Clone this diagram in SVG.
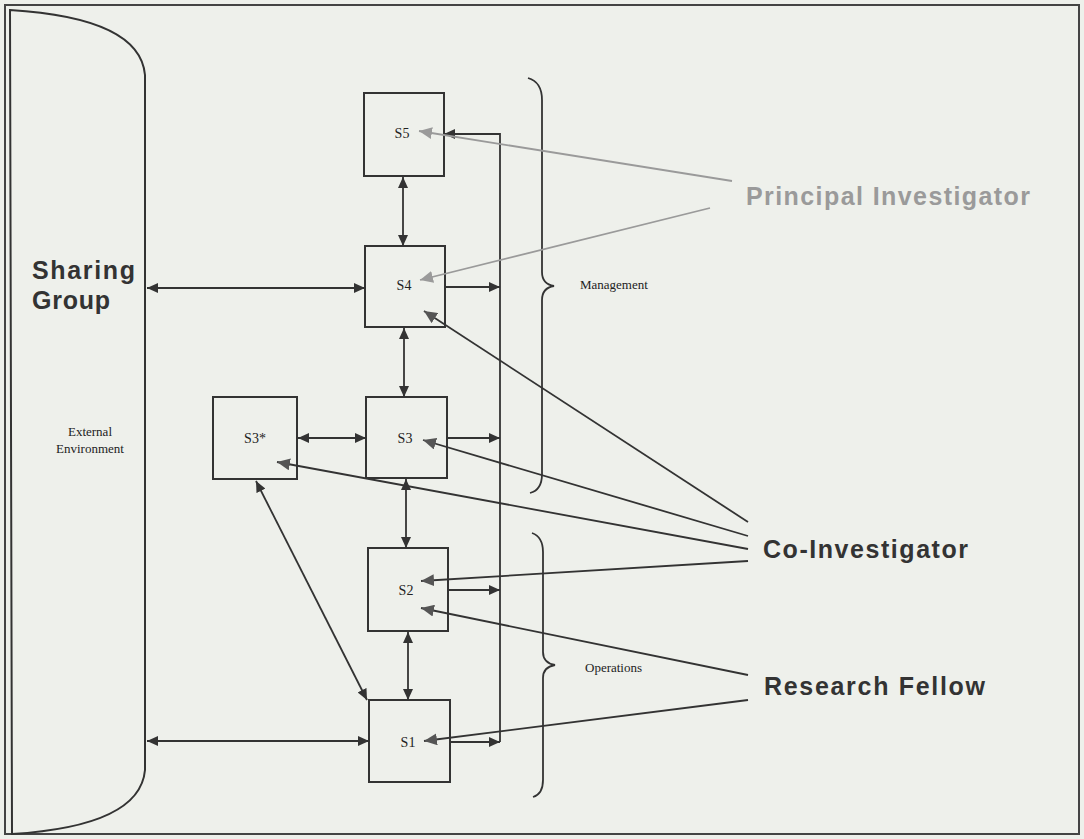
<svg xmlns="http://www.w3.org/2000/svg" width="1084" height="839" viewBox="0 0 1084 839">
<style>
.box{fill:none;stroke:#333;stroke-width:2}
.ln{fill:none;stroke:#333;stroke-width:1.8}
.gl{fill:none;stroke:#9a9a9a;stroke-width:1.8}
.lab{font-family:"Liberation Serif",serif;font-size:14px;fill:#222}
.sm{font-family:"Liberation Serif",serif;font-size:13px;fill:#222}
.big{font-family:"Liberation Sans",Arial,sans-serif;font-weight:bold;font-size:25px;fill:#333}
</style>
<defs>
<marker id="ah" markerUnits="userSpaceOnUse" markerWidth="12" markerHeight="10" refX="11" refY="5" orient="auto-start-reverse"><path d="M0,0 L11,5 L0,10 z" fill="#333"/></marker>
<marker id="ahd" markerUnits="userSpaceOnUse" markerWidth="14" markerHeight="12" refX="13" refY="6" orient="auto"><path d="M0,0 L13,6 L0,12 z" fill="#555"/></marker>
<marker id="ahg" markerUnits="userSpaceOnUse" markerWidth="14" markerHeight="12" refX="13" refY="6" orient="auto"><path d="M0,0 L13,6 L0,12 z" fill="#9a9a9a"/></marker>
</defs>
<rect x="0" y="0" width="1084" height="839" fill="#eef0eb"/>
<rect x="5" y="5" width="1074" height="829" fill="none" stroke="#444" stroke-width="2"/>

<g id="sharing-group">
<path d="M10,10 Q140,18 145,75 L145,770 Q140,826 12,834 Z" fill="none" stroke="#333" stroke-width="2"/>
<text class="big" x="32" y="279" textLength="103" lengthAdjust="spacing">Sharing</text>
<text class="big" x="32" y="309" textLength="78" lengthAdjust="spacing">Group</text>
<text class="sm" x="90" y="436" text-anchor="middle">External</text>
<text class="sm" x="90" y="453" text-anchor="middle">Environment</text>
</g>

<g id="S5"><rect class="box" x="364" y="93" width="80" height="83"/><text class="lab" x="402" y="138" text-anchor="middle">S5</text></g>
<g id="S4"><rect class="box" x="365" y="246" width="80" height="81"/><text class="lab" x="404" y="290" text-anchor="middle">S4</text></g>
<g id="S3"><rect class="box" x="366" y="397" width="81" height="81"/><text class="lab" x="405" y="443" text-anchor="middle">S3</text></g>
<g id="S3star"><rect class="box" x="213" y="397" width="84" height="82"/><text class="lab" x="255" y="443" text-anchor="middle">S3*</text></g>
<g id="S2"><rect class="box" x="368" y="548" width="80" height="83"/><text class="lab" x="406" y="595" text-anchor="middle">S2</text></g>
<g id="S1"><rect class="box" x="369" y="700" width="81" height="82"/><text class="lab" x="408" y="747" text-anchor="middle">S1</text></g>

<g id="management">
<path class="ln" d="M528,78 Q542,82 542,100 L542,272 Q542,284 554,286 Q542,288 542,300 L542,474 Q542,490 530,493"/>
<text class="sm" x="580" y="289">Management</text>
</g>
<g id="operations">
<path class="ln" d="M532,533 Q543,537 543,552 L543,652 Q543,663 555,665 Q543,667 543,678 L543,780 Q543,794 533,797"/>
<text class="sm" x="585" y="672">Operations</text>
</g>

<g id="principal-investigator"><text class="big" x="746" y="205" style="fill:#9a9a9a" textLength="284" lengthAdjust="spacing">Principal Investigator</text></g>
<g id="co-investigator"><text class="big" x="763" y="558" textLength="205" lengthAdjust="spacing">Co-Investigator</text></g>
<g id="research-fellow"><text class="big" x="764" y="695" textLength="221" lengthAdjust="spacing">Research Fellow</text></g>

<g id="connectors">
<line class="ln" x1="147" y1="288" x2="365" y2="288" marker-start="url(#ah)" marker-end="url(#ah)"/>
<line class="ln" x1="147" y1="741" x2="369" y2="741" marker-start="url(#ah)" marker-end="url(#ah)"/>
<line class="ln" x1="403" y1="177" x2="403" y2="246" marker-start="url(#ah)" marker-end="url(#ah)"/>
<line class="ln" x1="404" y1="328" x2="404" y2="397" marker-start="url(#ah)" marker-end="url(#ah)"/>
<line class="ln" x1="406" y1="479" x2="406" y2="548" marker-start="url(#ah)" marker-end="url(#ah)"/>
<line class="ln" x1="408" y1="632" x2="408" y2="700" marker-start="url(#ah)" marker-end="url(#ah)"/>
<line class="ln" x1="298" y1="438" x2="366" y2="438" marker-start="url(#ah)" marker-end="url(#ah)"/>
<line class="ln" x1="256" y1="481" x2="367" y2="700" marker-start="url(#ah)" marker-end="url(#ah)"/>
<path class="ln" d="M500,742 L500,134 L444,134" marker-end="url(#ah)"/>
<line class="ln" x1="445" y1="287" x2="500" y2="287" marker-end="url(#ah)"/>
<line class="ln" x1="447" y1="438" x2="500" y2="438" marker-end="url(#ah)"/>
<line class="ln" x1="448" y1="590" x2="500" y2="590" marker-end="url(#ah)"/>
<line class="ln" x1="450" y1="742" x2="500" y2="742" marker-end="url(#ah)"/>
<line class="gl" x1="732" y1="181" x2="419" y2="131" marker-end="url(#ahg)"/>
<line class="gl" x1="710" y1="208" x2="420" y2="280" marker-end="url(#ahg)"/>
<line class="ln" x1="748" y1="522" x2="424" y2="311" marker-end="url(#ahd)"/>
<line class="ln" x1="748" y1="536" x2="423" y2="440" marker-end="url(#ahd)"/>
<line class="ln" x1="748" y1="549" x2="277" y2="462" marker-end="url(#ahd)"/>
<line class="ln" x1="748" y1="561" x2="421" y2="581" marker-end="url(#ahd)"/>
<line class="ln" x1="748" y1="675" x2="421" y2="608" marker-end="url(#ahd)"/>
<line class="ln" x1="748" y1="700" x2="424" y2="741" marker-end="url(#ahd)"/>
</g>
</svg>
